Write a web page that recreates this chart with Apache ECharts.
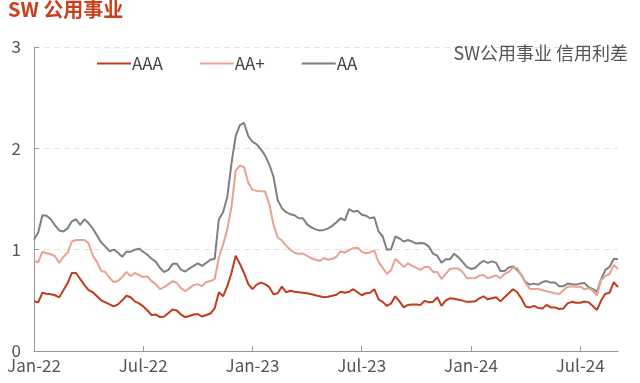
<!DOCTYPE html>
<html>
<head>
<meta charset="utf-8">
<script src="https://cdn.jsdelivr.net/npm/echarts@6/dist/echarts.min.js"></script>
<style>
html,body{margin:0;padding:0;background:#fff;}
#chart{width:640px;height:383px;}
</style>
</head>
<body>
<div id="chart"></div>
<script>
// Weekly observations starting 2022-01-01
const startDate = '2022-01-01';
const tickLabels = ['Jan-22','Jul-22','Jan-23','Jul-23','Jan-24','Jul-24'];
const weeksPerTick = 26;

const AAA = [0.49,0.48,0.575,0.565,0.56,0.55,0.53,0.6,0.67,0.77,
0.77,0.71,0.65,0.60,0.58,0.54,0.50,0.48,0.46,0.44,
0.46,0.50,0.545,0.53,0.49,0.47,0.44,0.40,0.355,0.36,
0.335,0.34,0.375,0.41,0.40,0.36,0.335,0.345,0.36,0.365,
0.34,0.355,0.37,0.42,0.58,0.54,0.64,0.77,0.94,0.86,
0.77,0.66,0.61,0.655,0.675,0.66,0.63,0.56,0.57,0.635,
0.58,0.595,0.585,0.58,0.575,0.57,0.56,0.55,0.54,0.53,
0.535,0.545,0.555,0.585,0.575,0.585,0.61,0.58,0.55,0.57,
0.575,0.61,0.51,0.485,0.445,0.47,0.54,0.49,0.43,0.455,
0.46,0.46,0.455,0.495,0.48,0.487,0.53,0.445,0.50,0.52,
0.515,0.505,0.497,0.485,0.485,0.49,0.52,0.54,0.51,0.52,
0.53,0.49,0.53,0.57,0.61,0.58,0.52,0.44,0.43,0.445,
0.425,0.42,0.455,0.43,0.43,0.415,0.42,0.47,0.485,0.477,
0.477,0.488,0.48,0.445,0.405,0.50,0.565,0.575,0.68,0.63];

const AAplus = [0.89,0.875,0.98,0.965,0.955,0.935,0.87,0.93,0.97,1.08,
1.095,1.095,1.095,1.06,0.94,0.88,0.79,0.78,0.72,0.68,
0.69,0.73,0.78,0.74,0.77,0.75,0.73,0.735,0.69,0.66,
0.61,0.63,0.66,0.69,0.67,0.62,0.59,0.62,0.65,0.66,
0.64,0.68,0.69,0.71,0.92,1.05,1.2,1.42,1.78,1.83,
1.815,1.66,1.59,1.58,1.577,1.575,1.45,1.25,1.12,1.09,
1.04,1.0,0.97,0.96,0.96,0.94,0.915,0.90,0.89,0.915,
0.90,0.91,0.93,0.985,0.97,0.995,1.015,1.02,0.98,0.965,
0.975,0.99,0.88,0.82,0.76,0.80,0.91,0.87,0.83,0.865,
0.84,0.82,0.80,0.83,0.83,0.78,0.78,0.71,0.76,0.81,
0.816,0.815,0.78,0.72,0.717,0.72,0.745,0.75,0.717,0.733,
0.745,0.72,0.76,0.78,0.825,0.82,0.75,0.67,0.615,0.612,
0.612,0.60,0.59,0.58,0.57,0.563,0.60,0.635,0.64,0.635,
0.635,0.61,0.62,0.595,0.55,0.70,0.74,0.76,0.85,0.81];

const AA = [1.10,1.17,1.34,1.335,1.30,1.24,1.19,1.18,1.21,1.28,
1.30,1.245,1.30,1.26,1.21,1.14,1.07,1.03,0.985,1.0,
0.97,0.93,0.98,0.98,1.0,1.01,0.98,0.95,0.91,0.88,
0.82,0.78,0.80,0.86,0.86,0.80,0.785,0.815,0.84,0.865,
0.84,0.87,0.90,0.91,1.30,1.37,1.52,1.85,2.12,2.23,
2.25,2.12,2.065,2.04,1.99,1.93,1.84,1.72,1.49,1.41,
1.37,1.35,1.34,1.31,1.31,1.25,1.22,1.20,1.19,1.195,
1.21,1.235,1.27,1.31,1.29,1.40,1.375,1.385,1.345,1.335,
1.31,1.32,1.18,1.13,1.0,1.005,1.13,1.11,1.08,1.095,
1.08,1.06,1.065,1.06,1.03,0.96,0.94,0.87,0.905,0.905,
0.96,0.925,0.88,0.83,0.81,0.82,0.86,0.89,0.87,0.885,
0.87,0.79,0.79,0.825,0.835,0.80,0.75,0.68,0.655,0.665,
0.655,0.68,0.69,0.675,0.675,0.64,0.64,0.665,0.66,0.655,
0.665,0.67,0.63,0.61,0.585,0.71,0.80,0.83,0.91,0.905];

const yTicks = [0, 1, 2, 3];

// build week categories
const weeks = [];
(function(){
  const d0 = new Date(startDate + 'T00:00:00Z');
  for (let i = 0; i < AAA.length; i++) {
    const d = new Date(d0.getTime() + i * 7 * 86400000);
    weeks.push(d.toISOString().slice(0,10));
  }
})();

const FONT = '"Noto Sans CJK SC","Noto Sans",sans-serif';
const chart = echarts.init(document.getElementById('chart'));

chart.setOption({
  animation: false,
  backgroundColor: '#fff',
  textStyle: { fontFamily: FONT },
  title: [
    { text: 'SW 公用事业', left: 3, top: -6,
      textStyle: { color: '#C8401C', fontSize: 20, fontWeight: 'bold', fontFamily: FONT } },
    { text: 'SW公用事业 信用利差', right: 7, top: 39,
      textStyle: { color: '#555', fontSize: 18, fontWeight: 'normal', fontFamily: FONT } }
  ],
  legend: {
    left: 92, top: 50, itemWidth: 34, itemHeight: 2, itemGap: 37,
    icon: 'rect',
    textStyle: { color: '#444', fontSize: 17, fontFamily: FONT, padding: [0,0,0,-4] },
    data: ['AAA','AA+','AA']
  },
  grid: { left: 34, right: 22, top: 47, bottom: 32, containLabel: false },
  xAxis: {
    type: 'category',
    data: weeks,
    boundaryGap: false,
    axisLine: { lineStyle: { color: '#999', width: 1 } },
    axisTick: { show: true, inside: true, length: 5, interval: function(idx){ return idx % weeksPerTick === 0; }, lineStyle: { color: '#999' } },
    axisLabel: {
      interval: function(idx){ return idx % weeksPerTick === 0; },
      formatter: function(v, idx){ return tickLabels[Math.round(idx / weeksPerTick)] || ''; },
      color: '#555', fontSize: 17, margin: 6, fontFamily: FONT
    },
    splitLine: { show: false }
  },
  yAxis: {
    type: 'value', min: yTicks[0], max: yTicks[yTicks.length-1], interval: 1,
    axisLine: { show: true, lineStyle: { color: '#999' } },
    axisTick: { show: true, inside: true, length: 5, lineStyle: { color: '#999' } },
    axisLabel: { color: '#555', fontSize: 17, margin: 13, fontFamily: FONT, verticalAlign: 'middle', lineHeight: 17, padding: [0,0,4,0] },
    splitLine: { show: true, lineStyle: { color: '#e3e3e3', type: [6, 4], width: 1 } }
  },
  series: [
    { name: 'AAA', type: 'line', data: AAA, showSymbol: false, symbol: 'none',
      lineStyle: { color: '#C23B1C', width: 2 }, itemStyle: { color: '#C23B1C' }, z: 4 },
    { name: 'AA+', type: 'line', data: AAplus, showSymbol: false, symbol: 'none',
      lineStyle: { color: '#E9A190', width: 2 }, itemStyle: { color: '#E9A190' }, z: 3 },
    { name: 'AA', type: 'line', data: AA, showSymbol: false, symbol: 'none',
      lineStyle: { color: '#7F7F7F', width: 2 }, itemStyle: { color: '#7F7F7F' }, z: 2 }
  ]
});
</script>
</body>
</html>
